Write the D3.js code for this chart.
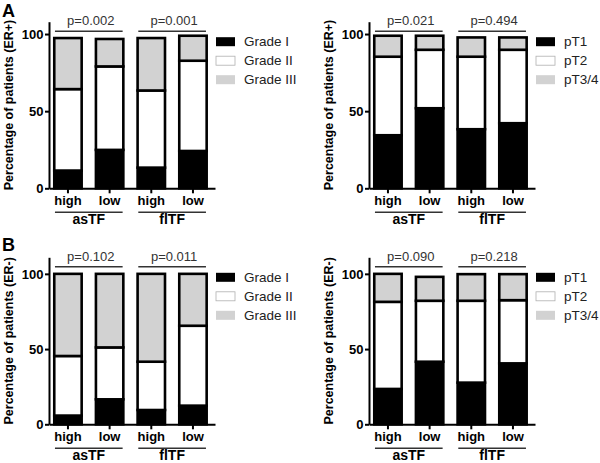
<!DOCTYPE html>
<html>
<head>
<meta charset="utf-8">
<script src="https://cdn.jsdelivr.net/npm/d3@7"></script>
<style>
  html, body { margin: 0; padding: 0; background: #fff; }
  svg { display: block; font-family: "Liberation Sans", Arial, sans-serif; }
</style>
</head>
<body>
<svg id="chart" width="600" height="463"></svg>
<script>
// ---------------- data ----------------
const categories = ["high", "low", "high", "low"];
const groups = ["asTF", "flTF"];
const gradeLabels = ["Grade I", "Grade II", "Grade III"];
const stageLabels = ["pT1", "pT2", "pT3/4"];
const yTicks = [0, 50, 100];

// ER+ (panel A), percent per segment, bars: asTF high, asTF low, flTF high, flTF low
const erPosGradeI   = [11.5, 24.9, 13.4, 24.2];
const erPosGradeII  = [52.8, 54.1, 50.0, 58.5];
const erPosGradeIII = [33.1, 17.8, 34.0, 16.2];
const erPosT1  = [34.4, 51.9, 38.3, 42.2];
const erPosT2  = [50.9, 37.9, 47.0, 47.6];
const erPosT34 = [13.6, 9.1, 12.5, 8.0];

// ER- (panel B)
const erNegGradeI   = [5.8, 16.6, 9.5, 12.4];
const erNegGradeII  = [39.6, 34.5, 32.1, 53.1];
const erNegGradeIII = [54.6, 48.9, 58.4, 34.5];
const erNegT1  = [23.5, 41.6, 27.7, 40.5];
const erNegT2  = [57.9, 40.5, 54.4, 42.0];
const erNegT34 = [18.6, 15.9, 17.7, 17.3];

const pPosGrade = ["p=0.002", "p=0.001"];
const pPosStage = ["p=0.021", "p=0.494"];
const pNegGrade = ["p=0.102", "p=0.011"];
const pNegStage = ["p=0.090", "p=0.218"];

const yMaxA = 108;
const yMaxB = 111;

// ---------------- style ----------------
const segColors = ["#000000", "#ffffff", "#d2d2d2"];
const barStroke = 2.6;

const svg = d3.select("#chart");
svg.append("rect").attr("width", 600).attr("height", 463).attr("fill", "#fff");

function drawPanel(cfg) {
  const g = svg.append("g");
  const axisLen = 166;
  const x = d3.scaleBand().domain(d3.range(categories.length))
    .range([cfg.x0, cfg.x0 + axisLen])
    .paddingInner(0.28).paddingOuter(0.132).align(0.36);
  const y = d3.scaleLinear().domain([0, cfg.ymax]).range([cfg.y0, cfg.top]);
  const bw = x.bandwidth();

  const rows = categories.map((c, i) => ({ i, s0: cfg.series[0][i], s1: cfg.series[1][i], s2: cfg.series[2][i] }));
  const stacked = d3.stack().keys(["s0", "s1", "s2"])(rows);

  stacked.forEach((layer, li) => {
    g.selectAll(null).data(layer).join("rect")
      .attr("x", d => x(d.data.i) + barStroke / 2)
      .attr("width", bw - barStroke)
      .attr("y", d => y(d[1]))
      .attr("height", d => y(d[0]) - y(d[1]))
      .attr("fill", segColors[li])
      .attr("stroke", "#000")
      .attr("stroke-width", barStroke);
  });

  // y axis
  const ya = g.append("g").attr("transform", `translate(${cfg.x0},0)`)
    .call(d3.axisLeft(y).tickValues(yTicks).tickSize(4).tickPadding(1.5).tickSizeOuter(0));
  ya.select(".domain").attr("stroke", "#000").attr("stroke-width", 2);
  ya.selectAll(".tick line").attr("stroke", "#000").attr("stroke-width", 2);
  ya.selectAll(".tick text").attr("font-size", 13).attr("font-weight", "bold")
    .attr("fill", "#000").attr("font-family", "Liberation Sans, Arial, sans-serif");

  // x axis
  const xa = g.append("g").attr("transform", `translate(0,${cfg.y0})`)
    .call(d3.axisBottom(x).tickSize(5).tickPadding(2.5).tickSizeOuter(0).tickFormat(i => categories[i]));
  xa.select(".domain").attr("stroke", "#000").attr("stroke-width", 2);
  xa.selectAll(".tick line").attr("stroke", "#000").attr("stroke-width", 2);
  xa.selectAll(".tick text").attr("font-size", 13).attr("font-weight", "bold")
    .attr("fill", "#000").attr("font-family", "Liberation Sans, Arial, sans-serif");

  // group lines, group labels, p-values
  groups.forEach((gr, gi) => {
    const xa1 = x(gi * 2) + 2;
    const xa2 = x(gi * 2 + 1) + bw - 2;
    const cx = (xa1 + xa2) / 2;
    g.append("line").attr("x1", xa1).attr("x2", xa2)
      .attr("y1", cfg.y0 + 24).attr("y2", cfg.y0 + 24)
      .attr("stroke", "#333").attr("stroke-width", 1.6);
    g.append("text").attr("x", cx).attr("y", cfg.y0 + 35.6)
      .attr("text-anchor", "middle").attr("font-size", 14).attr("font-weight", "bold")
      .attr("fill", "#000").text(gr);
    g.append("line").attr("x1", xa1).attr("x2", xa2)
      .attr("y1", cfg.top + 9.5).attr("y2", cfg.top + 9.5)
      .attr("stroke", "#333").attr("stroke-width", 1.6);
    g.append("text").attr("x", cx + 2).attr("y", cfg.top + 3.3)
      .attr("text-anchor", "middle").attr("font-size", 13)
      .attr("fill", "#333").text(cfg.pvals[gi]);
  });

  // legend
  const lx = cfg.x0 + axisLen + 1;
  cfg.labels.forEach((lab, li) => {
    const ly = cfg.top + 15.5 + li * 19;
    g.append("rect").attr("x", lx).attr("y", ly).attr("width", 19).attr("height", 9)
      .attr("fill", segColors[li])
      .attr("stroke", li === 1 ? "#b0b0b0" : segColors[li]).attr("stroke-width", li === 1 ? 0.8 : 0);
    g.append("text").attr("x", lx + 28).attr("y", ly + 9)
      .attr("font-size", 13.5).attr("fill", "#222").text(lab);
  });

  // y label
  g.append("text")
    .attr("transform", `translate(${cfg.x0 - 36},${(cfg.y0 + cfg.top) / 2}) rotate(-90)`)
    .attr("text-anchor", "middle").attr("font-size", 12.5).attr("font-weight", "bold")
    .attr("fill", "#000").text(cfg.ylabel);
}

drawPanel({ x0: 49, top: 21.7, y0: 188.3, ymax: yMaxA,
  series: [erPosGradeI, erPosGradeII, erPosGradeIII], labels: gradeLabels, pvals: pPosGrade,
  ylabel: "Percentage of patients (ER+)" });
drawPanel({ x0: 369, top: 21.7, y0: 188.3, ymax: yMaxA,
  series: [erPosT1, erPosT2, erPosT34], labels: stageLabels, pvals: pPosStage,
  ylabel: "Percentage of patients (ER+)" });
drawPanel({ x0: 49, top: 257.3, y0: 424.3, ymax: yMaxB,
  series: [erNegGradeI, erNegGradeII, erNegGradeIII], labels: gradeLabels, pvals: pNegGrade,
  ylabel: "Percentage of patients (ER-)" });
drawPanel({ x0: 369, top: 257.3, y0: 424.3, ymax: yMaxB,
  series: [erNegT1, erNegT2, erNegT34], labels: stageLabels, pvals: pNegStage,
  ylabel: "Percentage of patients (ER-)" });

svg.append("text").attr("x", 2).attr("y", 16.5).attr("font-size", 18).attr("font-weight", "bold").text("A");
svg.append("text").attr("x", 2).attr("y", 251).attr("font-size", 18).attr("font-weight", "bold").text("B");
</script>
</body>
</html>
